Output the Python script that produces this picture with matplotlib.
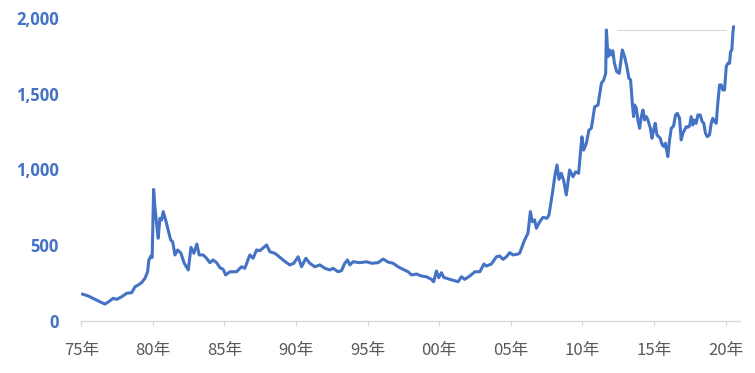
import matplotlib
matplotlib.use("Agg")
import matplotlib.pyplot as plt

# Gold price (USD/oz)
years = [
    1975.07, 1975.49, 1975.96, 1976.30, 1976.65, 1976.88, 1977.23, 1977.47, 1977.82, 1978.17,
    1978.52, 1978.75, 1978.98, 1979.21, 1979.45, 1979.63, 1979.72, 1979.86, 1979.95, 1980.05,
    1980.14, 1980.28, 1980.37, 1980.49, 1980.61, 1980.72, 1980.89, 1981.07, 1981.24, 1981.38,
    1981.54, 1981.73, 1981.96, 1982.19, 1982.47, 1982.66, 1982.86, 1983.07, 1983.23, 1983.51,
    1983.75, 1983.98, 1984.21, 1984.45, 1984.68, 1984.91, 1985.08,
    1985.38, 1985.84, 1986.19, 1986.42, 1986.77, 1987.00, 1987.24, 1987.47, 1987.94, 1988.17,
    1988.52, 1988.87, 1989.22, 1989.56, 1989.84, 1990.14, 1990.38, 1990.68, 1990.96, 1991.31,
    1991.66, 1992.01, 1992.36, 1992.59, 1992.93, 1993.17, 1993.40, 1993.59, 1993.75, 1993.98,
    1994.45, 1994.92, 1995.27,
    1995.73, 1996.08, 1996.42, 1996.77, 1997.12, 1997.47, 1997.82, 1998.06, 1998.41, 1998.75,
    1999.10, 1999.45, 1999.61, 1999.80, 1999.96, 2000.15, 2000.31, 2000.73, 2001.08, 2001.31,
    2001.55, 2001.78, 2002.13, 2002.48, 2002.83, 2003.12, 2003.29, 2003.64, 2003.99, 2004.22,
    2004.45, 2004.69, 2004.92, 2005.15, 2005.50,
    2005.61, 2005.96, 2006.19, 2006.36, 2006.50, 2006.66, 2006.78, 2007.01, 2007.24, 2007.52,
    2007.66, 2007.90, 2008.06, 2008.22, 2008.36, 2008.52, 2008.68, 2008.87, 2009.10, 2009.34,
    2009.52, 2009.73, 2009.96, 2010.08, 2010.27, 2010.45, 2010.62, 2010.85, 2011.08, 2011.32,
    2011.48, 2011.62, 2011.67, 2011.78, 2011.89, 2012.01, 2012.12, 2012.23, 2012.39, 2012.57,
    2012.78, 2012.94, 2013.10, 2013.24, 2013.36, 2013.48, 2013.57, 2013.64, 2013.76, 2013.87,
    2013.99, 2014.11, 2014.22, 2014.34, 2014.46, 2014.57, 2014.74, 2014.85, 2014.97, 2015.08,
    2015.20, 2015.31, 2015.43, 2015.57, 2015.69, 2015.79, 2015.87, 2015.96, 2016.08, 2016.20,
    2016.36, 2016.50, 2016.62, 2016.78, 2016.89, 2017.01, 2017.13, 2017.25, 2017.36, 2017.48,
    2017.59, 2017.71, 2017.82, 2017.94, 2018.06, 2018.22, 2018.36, 2018.47, 2018.59, 2018.71,
    2018.87, 2018.99, 2019.10, 2019.22, 2019.34, 2019.45, 2019.57, 2019.69, 2019.80, 2019.92,
    2020.04, 2020.15, 2020.27, 2020.34, 2020.43, 2020.50, 2020.55,
]
prices = [
    178, 165, 143, 127, 112, 125, 150, 143, 160, 183,
    187, 226, 238, 253, 282, 325, 403, 429, 420, 869,
    755, 622, 546, 678, 667, 722, 667, 600, 535, 523,
    436, 469, 447, 381, 337, 486, 447, 508, 436, 436,
    414, 385, 403, 385, 352, 341, 304,
    325, 325, 358, 348, 436, 414, 469, 464, 502, 457,
    447, 420, 393, 370, 381, 424, 358, 414, 381, 358,
    370, 348, 337, 348, 325, 332, 381, 403, 370, 391,
    385, 391, 381,
    385, 409, 389, 381, 358, 341, 325, 304, 310, 297,
    292, 275, 259, 330, 286, 319, 288, 275, 266, 259,
    292, 275, 297, 325, 325, 376, 363, 376, 424, 429,
    407, 424, 451, 436, 442,
    447, 535, 579, 722, 655, 667, 612, 655, 684, 678,
    700, 843, 952, 1030, 935, 975, 930, 832, 997, 952,
    985, 975, 1216, 1128, 1173, 1260, 1272, 1414, 1425, 1569,
    1590, 1635, 1921, 1745, 1789, 1756, 1784, 1701, 1646, 1635,
    1789, 1745, 1679, 1602, 1591, 1437, 1349, 1426, 1404, 1327,
    1272, 1349, 1393, 1327, 1349, 1327, 1272, 1206, 1261, 1305,
    1228, 1217, 1206, 1162, 1151, 1173, 1129, 1085, 1195, 1272,
    1287, 1360, 1371, 1338, 1195, 1239, 1261, 1283, 1279, 1287,
    1349, 1294, 1327, 1305, 1360, 1360, 1316, 1305, 1239, 1217,
    1228, 1305, 1338, 1316, 1305, 1437, 1558, 1558, 1525, 1525,
    1679, 1701, 1701, 1778, 1789, 1899, 1943,
]

# Reference line at the 2011 high
ref_value = 1921
ref_start = 2012.4
ref_end = 2020.05

tick_years = [1975, 1980, 1985, 1990, 1995, 2000, 2005, 2010, 2015, 2020]
tick_labels = ["75年", "80年", "85年", "90年", "95年", "00年", "05年", "10年", "15年", "20年"]
y_ticks = [0, 500, 1000, 1500, 2000]
y_labels = ["0", "500", "1,000", "1,500", "2,000"]

BLUE = "#4472C4"
GREY = "#595959"
LIGHT = "#d9d9d9"

fig = plt.figure(figsize=(7.55, 3.73), dpi=100)
ax = fig.add_axes([81.3 / 755, (373 - 321) / 373, (740 - 81.3) / 755, 303 / 373])

ax.hlines(ref_value, ref_start, ref_end, color=LIGHT, lw=0.8)
ax.plot(years, prices, color=BLUE, lw=2.2, solid_joinstyle="round", solid_capstyle="round")

ax.set_xlim(1975, 2021)
ax.set_ylim(0, 2000)

ax.set_xticks(tick_years)
ax.set_xticklabels(tick_labels, family=["Noto Sans CJK JP", "DejaVu Sans"], fontsize=12, color=GREY)
ax.set_yticks(y_ticks)
ax.set_yticklabels(y_labels, family=["Open Sans", "DejaVu Sans"], fontsize=12, fontweight="bold", color=BLUE)

for s in ["top", "right", "left"]:
    ax.spines[s].set_visible(False)
ax.spines["bottom"].set_color(LIGHT)
ax.spines["bottom"].set_linewidth(1.0)

ax.tick_params(axis="y", length=0, pad=16)
ax.tick_params(axis="x", length=3.3, width=0.8, color=LIGHT, pad=12)

fig.savefig("out.png", dpi=100)
